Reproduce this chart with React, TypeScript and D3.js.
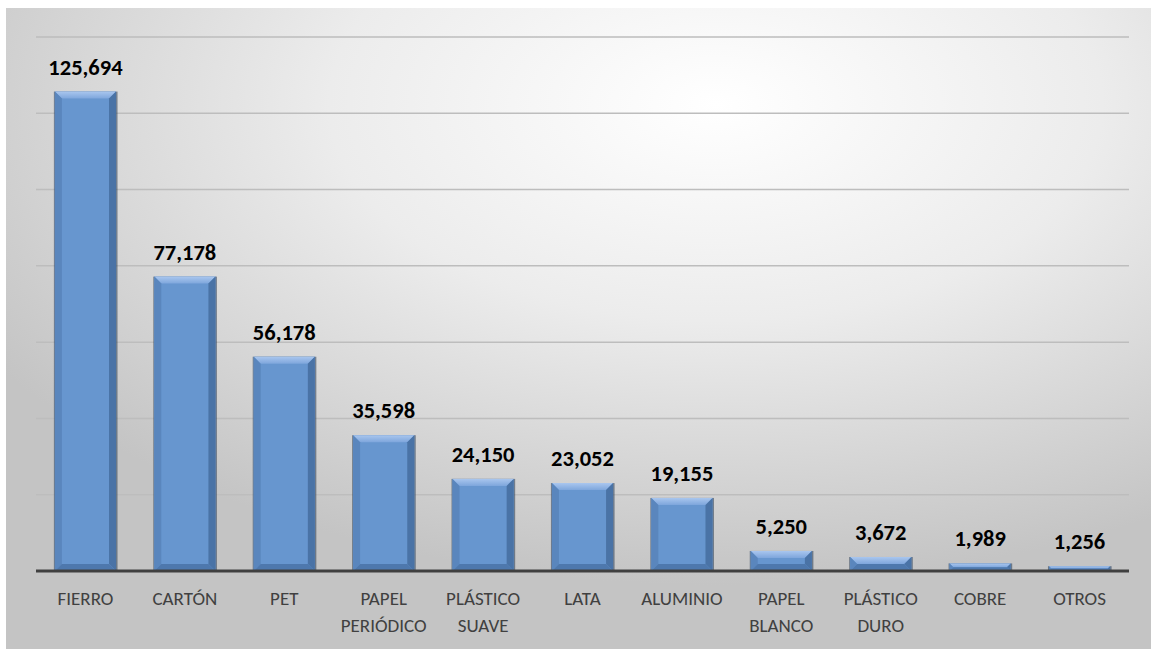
import React from "react";
import * as d3 from "d3";

const categories = ["FIERRO", "CARTÓN", "PET", "PAPEL\nPERIÓDICO", "PLÁSTICO\nSUAVE", "LATA", "ALUMINIO", "PAPEL\nBLANCO", "PLÁSTICO\nDURO", "COBRE", "OTROS"];
const values = [125694, 77178, 56178, 35598, 24150, 23052, 19155, 5250, 3672, 1989, 1256];
const yTicks = [0, 20000, 40000, 60000, 80000, 100000, 120000, 140000];

const W = 1151, H = 649;
const m = { left: 36, right: 22, top: 37, bottom: 78 };
const FONT = "Carlito, Calibri, Lato, 'Liberation Sans', Arial, sans-serif";

export default function App() {
  const x = d3.scaleBand<string>().domain(categories).range([m.left, W - m.right]).paddingInner(0.385).paddingOuter(0.19);
  const y = d3.scaleLinear().domain([0, 140000]).range([H - m.bottom, m.top]);
  const fmt = d3.format(",");
  const bw = x.bandwidth();
  return (
    <svg width={W} height={H} style={{ position: "absolute", left: 0, top: 0 }}>
      <defs>
        <radialGradient id="bg" cx="0.62" cy="0.15" r="0.75" fx="0.62" fy="0.15">
          <stop offset="0" stopColor="#ffffff" />
          <stop offset="0.45" stopColor="#ececec" />
          <stop offset="1" stopColor="#c4c4c4" />
        </radialGradient>
        <linearGradient id="topG" x1="0" y1="0" x2="0" y2="1">
          <stop offset="0" stopColor="#a9c6ee" />
          <stop offset="1" stopColor="#7ea6dc" />
        </linearGradient>
      </defs>
      <rect x={0} y={0} width={W} height={H} fill="#ffffff" />
      <rect x={6} y={8} width={W - 6} height={H - 8} fill="url(#bg)" />
      {yTicks.slice(1).map((t) => (
        <line key={t} x1={m.left} x2={W - m.right} y1={y(t)} y2={y(t)} stroke="#bdbdbd" strokeWidth={1.5} />
      ))}
      {categories.map((c, i) => {
        const x0 = x(c)!;
        const x1 = x0 + bw;
        const yt = y(values[i]);
        const yb = y(0);
        const h = yb - yt;
        const b = Math.min(7, h / 2);
        const ly = Math.min(yt - 17, yb - 18);
        return (
          <g key={c}>
            <rect x={x0 - 1} y={yt} width={bw + 2.5} height={h} fill="#34465e" opacity={0.6} />
            <rect x={x0} y={yt} width={bw} height={h} fill="#6796cf" />
            <polygon points={`${x0},${yt} ${x1},${yt} ${x1 - b},${yt + b} ${x0 + b},${yt + b}`} fill="url(#topG)" />
            <polygon points={`${x0},${yt} ${x0 + b},${yt + b} ${x0 + b},${yb - b} ${x0},${yb}`} fill="#5a86bd" />
            <polygon points={`${x1},${yt} ${x1 - b},${yt + b} ${x1 - b},${yb - b} ${x1},${yb}`} fill="#4a73a6" />
            <polygon points={`${x0},${yb} ${x0 + b},${yb - b} ${x1 - b},${yb - b} ${x1},${yb}`} fill="#4e78ad" />
            <text x={x0 + bw / 2} y={ly} textAnchor="middle" fontFamily={FONT} fontWeight="bold" fontSize={22.5} fill="#000">
              {fmt(values[i])}
            </text>
          </g>
        );
      })}
      <line x1={m.left} x2={W - m.right} y1={y(0)} y2={y(0)} stroke="#404040" strokeWidth={3} />
      {categories.map((c) => (
        <text key={c} x={x(c)! + bw / 2} y={y(0) + 34} textAnchor="middle" fontFamily={FONT} fontSize={19} fill="#404040">
          {c.split("\n").map((l, j) => (
            <tspan key={j} x={x(c)! + bw / 2} dy={j === 0 ? 0 : 27}>{l}</tspan>
          ))}
        </text>
      ))}
    </svg>
  );
}
